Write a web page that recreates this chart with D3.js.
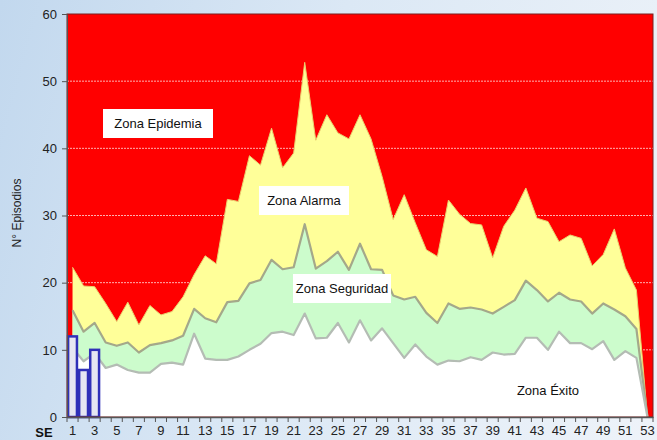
<!DOCTYPE html>
<html>
<head>
<meta charset="utf-8">
<script src="https://cdn.jsdelivr.net/npm/d3@7"></script>
<style>
  html, body { margin: 0; padding: 0; }
  body {
    width: 657px; height: 440px; overflow: hidden;
    background: linear-gradient(105deg, #c2d8ee 0%, #dbe8f5 45%, #eef3f9 100%);
    font-family: "Liberation Sans", Arial, sans-serif;
  }
  .axis text { font-size: 13px; fill: #222; font-family: "Liberation Sans", Arial, sans-serif; }
  .axis path, .axis line { stroke: #555; }
</style>
</head>
<body>
<svg id="chart" width="657" height="440"></svg>
<script>
// semanas epidemiologicas 1..53
var weeks = d3.range(1, 54);

// umbral superior de cada zona (episodios por semana)
var exito = [10.3, 8.3, 9.5, 7.3, 7.8, 7.0, 6.6, 6.6, 7.9, 8.1, 7.8, 12.4, 8.7, 8.5, 8.5, 9.0, 10.0, 10.9, 12.5, 12.7,
             12.2, 15.4, 11.7, 11.8, 14.0, 11.1, 14.4, 11.4, 13.2, 11.0, 8.8, 10.8, 9.0, 7.8, 8.4, 8.3, 8.9, 8.5, 9.6, 9.3,
             9.4, 11.8, 11.8, 10.0, 12.7, 11.0, 11.0, 10.1, 11.3, 8.5, 9.8, 8.8, 0];
var seguridad = [15.9, 12.7, 14.0, 11.1, 10.6, 11.1, 9.6, 10.7, 11.0, 11.4, 12.1, 16.1, 14.7, 14.1, 17.1, 17.3, 19.9, 20.4, 23.4, 22.0,
                 22.3, 28.7, 22.1, 23.2, 24.6, 21.9, 25.8, 22.0, 21.9, 18.1, 17.5, 17.9, 15.5, 14.0, 16.9, 16.1, 16.3, 16.0, 15.4, 16.4,
                 17.4, 20.3, 18.9, 17.2, 18.5, 17.5, 17.2, 15.4, 16.9, 16.0, 15.0, 13.1, 0];
var alarma = [22.3, 19.5, 19.4, 16.9, 14.2, 17.1, 13.7, 16.6, 15.2, 15.7, 17.9, 21.2, 24.0, 22.8, 32.4, 32.1, 38.9, 37.5, 43.0, 37.1,
              39.3, 52.8, 41.2, 45.0, 42.3, 41.4, 45.0, 41.4, 35.8, 29.4, 33.1, 28.9, 24.9, 23.9, 32.3, 30.2, 28.8, 28.6, 23.7, 28.4,
              30.8, 34.1, 29.6, 29.1, 26.1, 27.1, 26.6, 22.5, 24.2, 28.0, 22.2, 18.9, 0];
var epidemiaTop = 60;

// casos de la temporada actual
var casosSemanas = [1, 2, 3];
var casos = [12, 7, 10];

var yTicks = [0, 10, 20, 30, 40, 50, 60];
var xTickLabels = weeks.filter(function(w) { return w % 2 === 1; });

var svg = d3.select("#chart");
var margin = {top: 14, right: 4, bottom: 23, left: 67};
var width = +svg.attr("width") - margin.left - margin.right;
var height = +svg.attr("height") - margin.top - margin.bottom;
var g = svg.append("g").attr("transform", "translate(" + margin.left + "," + margin.top + ")");

var x = d3.scaleBand().domain(weeks).range([0, width]).padding(0);
var y = d3.scaleLinear().domain([0, 60]).range([height, 0]);
var cx = function(w) { return x(w) + x.bandwidth() / 2; };

// zona epidemia (fondo rojo)
g.append("rect")
    .attr("x", 0).attr("y", y(epidemiaTop))
    .attr("width", width).attr("height", y(0) - y(epidemiaTop))
    .attr("fill", "#ff0000");

// lineas de division
g.append("g").selectAll("line")
    .data(yTicks.filter(function(t) { return t > 0 && t < 60; }))
    .enter().append("line")
        .attr("x1", 0).attr("x2", width)
        .attr("y1", function(d) { return y(d); })
        .attr("y2", function(d) { return y(d); })
        .attr("stroke", "#ffb0b0")
        .attr("stroke-width", 1)
        .attr("stroke-dasharray", "2,1");

function zone(values, fill, stroke, sw) {
    var area = d3.area()
        .x(function(d, i) { return cx(weeks[i]); })
        .y0(y(0))
        .y1(function(d) { return y(d); });
    var line = d3.line()
        .x(function(d, i) { return cx(weeks[i]); })
        .y(function(d) { return y(d); });
    g.append("path").datum(values).attr("d", area).attr("fill", fill);
    g.append("path").datum(values).attr("d", line)
        .attr("fill", "none").attr("stroke", stroke).attr("stroke-width", sw)
        .attr("stroke-linejoin", "round");
}

zone(alarma, "#ffff99", "#e8d070", 1);
zone(seguridad, "#ccfccc", "#a4a88a", 2.2);
zone(exito, "#ffffff", "#b4bcb4", 2.2);

// barras de casos
g.append("g").selectAll("rect")
    .data(casos)
    .enter().append("rect")
        .attr("x", function(d, i) { return cx(casosSemanas[i]) - x.bandwidth() * 0.4; })
        .attr("width", x.bandwidth() * 0.8)
        .attr("y", function(d) { return y(d); })
        .attr("height", function(d) { return y(0) - y(d); })
        .attr("fill", "#e6e6f2")
        .attr("stroke", "#3030b8")
        .attr("stroke-width", 2.5);

// etiquetas de zona
function zoneLabel(text, px, py, boxed, bw) {
    if (boxed) {
        g.append("rect")
            .attr("x", px - bw / 2).attr("y", py - 14)
            .attr("width", bw).attr("height", 29)
            .attr("fill", "#ffffff");
    }
    g.append("text")
        .attr("x", px).attr("y", py)
        .attr("dy", "0.35em")
        .attr("text-anchor", "middle")
        .style("font-size", "13px")
        .style("fill", "#111")
        .text(text);
}
zoneLabel("Zona Epidemia", 158 - margin.left, 123 - margin.top, true, 110);
zoneLabel("Zona Alarma", 304 - margin.left, 200 - margin.top, true, 90);
zoneLabel("Zona Seguridad", 342 - margin.left, 288 - margin.top, true, 98);
zoneLabel("Zona Éxito", 548 - margin.left, 390 - margin.top, false, 0);

// borde del area de trazado
g.append("rect")
    .attr("x", 0).attr("y", 0).attr("width", width).attr("height", height)
    .attr("fill", "none").attr("stroke", "#7a2020").attr("stroke-width", 1);

// ejes
var axisLeft = g.append("g").attr("class", "axis")
    .call(d3.axisLeft(y).tickValues(yTicks).tickSize(5).tickPadding(5).tickSizeOuter(0));
axisLeft.select(".domain").attr("stroke", "#444");

var axisBottom = g.append("g").attr("class", "axis")
    .attr("transform", "translate(0," + height + ")")
    .call(d3.axisBottom(x).tickValues(xTickLabels).tickSize(0).tickPadding(9));
axisBottom.select(".domain").attr("stroke", "#555").attr("stroke-width", 1.5);

// marcas entre semanas
g.append("g").selectAll("line")
    .data(weeks.concat([null]))
    .enter().append("line")
        .attr("x1", function(d) { return d === null ? width : x(d); })
        .attr("x2", function(d) { return d === null ? width : x(d); })
        .attr("y1", height).attr("y2", height + 5)
        .attr("stroke", "#555");

svg.append("text")
    .attr("x", 44).attr("y", 437)
    .attr("text-anchor", "middle")
    .style("font-size", "13px")
    .style("font-weight", "bold")
    .style("fill", "#111")
    .text("SE");

svg.append("text")
    .attr("transform", "translate(21," + 213 + ") rotate(-90)")
    .attr("text-anchor", "middle")
    .style("font-size", "12px")
    .style("fill", "#222")
    .text("N° Episodios");
</script>
</body>
</html>
